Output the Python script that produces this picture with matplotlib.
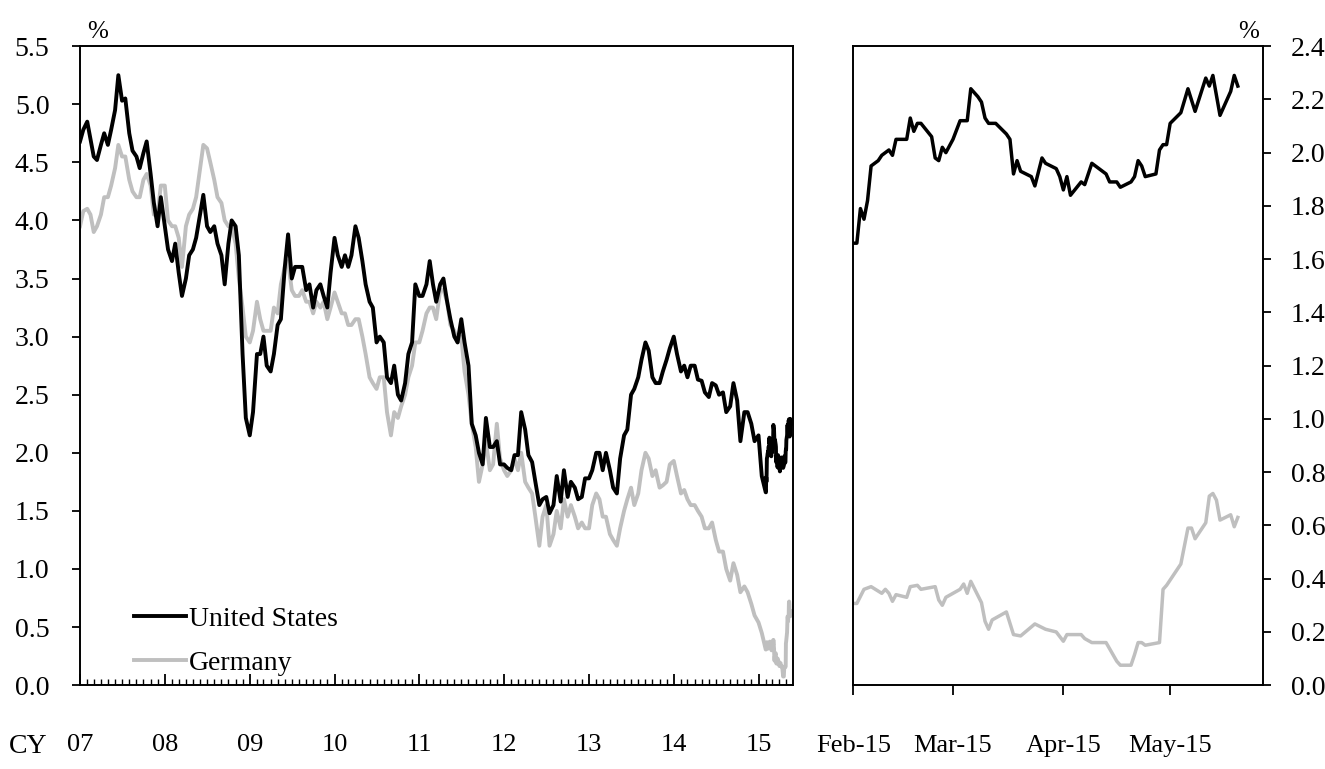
import matplotlib
matplotlib.use('Agg')
import matplotlib.pyplot as plt
import matplotlib.dates as mdates
import numpy as np
import pandas as pd

plt.rcParams['font.family'] = ['Liberation Serif', 'DejaVu Serif']
plt.rcParams['font.size'] = 15

# 10-year yields, read on the 1st and 15th of each month, Jan 2007 - Jan 2015
us_semi = [
    4.68, 4.78, 4.85, 4.70, 4.55, 4.52, 4.65, 4.75, 4.65, 4.78, 4.95, 5.25, 5.03, 5.05, 4.75, 4.60, 4.55, 4.45, 4.58, 4.68, 4.40, 4.15, 3.95, 4.20,  # 2007
    3.95, 3.75, 3.65, 3.80, 3.55, 3.35, 3.50, 3.70, 3.75, 3.85, 4.05, 4.22, 3.95, 3.90, 3.95, 3.80, 3.70, 3.45, 3.80, 4.00, 3.95, 3.70, 2.85, 2.30,  # 2008
    2.15, 2.35, 2.85, 2.85, 3.00, 2.75, 2.70, 2.85, 3.10, 3.15, 3.60, 3.88, 3.50, 3.60, 3.60, 3.60, 3.40, 3.45, 3.25, 3.40, 3.45, 3.35, 3.25, 3.55,  # 2009
    3.85, 3.70, 3.60, 3.70, 3.60, 3.70, 3.95, 3.85, 3.65, 3.45, 3.30, 3.25, 2.95, 3.00, 2.95, 2.65, 2.60, 2.75, 2.50, 2.45, 2.60, 2.85, 2.95, 3.45,  # 2010
    3.35, 3.35, 3.45, 3.65, 3.45, 3.30, 3.45, 3.50, 3.30, 3.15, 3.00, 2.95, 3.15, 2.95, 2.75, 2.25, 2.15, 2.00, 1.90, 2.30, 2.05, 2.05, 2.10, 1.90,  # 2011
    1.90, 1.87, 1.85, 1.98, 1.98, 2.35, 2.20, 1.98, 1.92, 1.75, 1.55, 1.60, 1.62, 1.48, 1.55, 1.80, 1.58, 1.85, 1.62, 1.75, 1.70, 1.60, 1.62, 1.78,  # 2012
    1.78, 1.85, 2.00, 2.00, 1.85, 2.00, 1.85, 1.70, 1.65, 1.95, 2.15, 2.20, 2.50, 2.55, 2.65, 2.80, 2.95, 2.88, 2.65, 2.60, 2.60, 2.70, 2.80, 2.90,  # 2013
    3.00, 2.85, 2.70, 2.75, 2.65, 2.75, 2.75, 2.63, 2.62, 2.52, 2.48, 2.60, 2.58, 2.50, 2.52, 2.35, 2.40, 2.60, 2.45, 2.10, 2.35, 2.35, 2.25, 2.10,  # 2014
    2.15, 1.80,  # 2015
]
de_semi = [
    3.95, 4.08, 4.10, 4.05, 3.90, 3.95, 4.05, 4.20, 4.20, 4.30, 4.45, 4.65, 4.55, 4.55, 4.35, 4.25, 4.20, 4.20, 4.35, 4.40, 4.30, 4.05, 4.05, 4.30,  # 2007
    4.30, 4.00, 3.95, 3.95, 3.85, 3.60, 3.95, 4.05, 4.10, 4.20, 4.45, 4.65, 4.62, 4.50, 4.35, 4.20, 4.15, 4.00, 3.95, 3.95, 3.80, 3.50, 3.25, 3.00,  # 2008
    2.95, 3.05, 3.30, 3.15, 3.05, 3.05, 3.05, 3.25, 3.20, 3.45, 3.60, 3.65, 3.40, 3.35, 3.35, 3.40, 3.30, 3.30, 3.20, 3.30, 3.25, 3.30, 3.15, 3.25,  # 2009
    3.38, 3.30, 3.20, 3.20, 3.10, 3.10, 3.15, 3.15, 3.00, 2.85, 2.65, 2.60, 2.55, 2.65, 2.65, 2.35, 2.15, 2.35, 2.30, 2.40, 2.50, 2.65, 2.75, 2.95,  # 2010
    2.95, 3.05, 3.20, 3.25, 3.25, 3.15, 3.40, 3.40, 3.30, 3.10, 3.05, 2.95, 3.00, 2.70, 2.50, 2.25, 2.05, 1.75, 1.90, 2.10, 1.85, 1.90, 2.25, 1.95,  # 2011
    1.85, 1.80, 1.85, 1.95, 1.85, 2.00, 1.75, 1.70, 1.65, 1.45, 1.20, 1.45, 1.55, 1.20, 1.30, 1.50, 1.35, 1.60, 1.45, 1.55, 1.45, 1.35, 1.40, 1.35,  # 2012
    1.35, 1.55, 1.65, 1.60, 1.45, 1.45, 1.30, 1.25, 1.20, 1.35, 1.50, 1.60, 1.70, 1.55, 1.65, 1.85, 2.00, 1.95, 1.80, 1.85, 1.70, 1.72, 1.75, 1.90,  # 2013
    1.93, 1.80, 1.65, 1.68, 1.60, 1.55, 1.55, 1.50, 1.45, 1.35, 1.35, 1.40, 1.25, 1.15, 1.15, 1.00, 0.90, 1.05, 0.95, 0.80, 0.85, 0.80, 0.70, 0.60,  # 2014
    0.54, 0.45,  # 2015
]

# daily readings, Feb - May 2015
us_dates = ['02-01', '02-02', '02-03', '02-04', '02-05', '02-06', '02-08', '02-09', '02-11', '02-12',
            '02-13', '02-16', '02-17', '02-18', '02-19', '02-20', '02-23', '02-24', '02-25', '02-26',
            '02-27', '03-01', '03-03', '03-05', '03-06', '03-08', '03-09', '03-10', '03-11', '03-13',
            '03-16', '03-17', '03-18', '03-19', '03-20', '03-23', '03-24', '03-26', '03-27', '03-30',
            '03-31', '04-01', '04-02', '04-03', '04-06', '04-07', '04-09', '04-11', '04-13', '04-14',
            '04-16', '04-17', '04-20', '04-21', '04-22', '04-23', '04-24', '04-27', '04-28', '04-29',
            '04-30', '05-01', '05-04', '05-06', '05-08', '05-11', '05-12', '05-13', '05-15', '05-18',
            '05-19', '05-20']
us_daily = [1.66, 1.66, 1.79, 1.75, 1.82, 1.95, 1.97, 1.99, 2.01, 1.99,
            2.05, 2.05, 2.13, 2.08, 2.11, 2.11, 2.06, 1.98, 1.97, 2.02,
            2.00, 2.05, 2.12, 2.12, 2.24, 2.21, 2.19, 2.13, 2.11, 2.11,
            2.07, 2.05, 1.92, 1.97, 1.93, 1.91, 1.875, 1.98, 1.96, 1.94,
            1.91, 1.86, 1.91, 1.84, 1.89, 1.88, 1.96, 1.94, 1.92, 1.89,
            1.89, 1.87, 1.89, 1.91, 1.97, 1.95, 1.91, 1.92, 2.01, 2.03,
            2.03, 2.11, 2.15, 2.24, 2.155, 2.28, 2.25, 2.29, 2.14, 2.23,
            2.29, 2.25]
de_dates = ['02-01', '02-02', '02-04', '02-06', '02-09', '02-10', '02-11', '02-12', '02-13', '02-16',
            '02-17', '02-19', '02-20', '02-24', '02-25', '02-26', '02-27', '03-03', '03-04', '03-05',
            '03-06', '03-09', '03-10', '03-11', '03-12', '03-16', '03-18', '03-20', '03-24', '03-27',
            '03-30', '04-01', '04-02', '04-06', '04-07', '04-09', '04-13', '04-16', '04-17', '04-20',
            '04-21', '04-22', '04-23', '04-24', '04-28', '04-29', '04-30', '05-04', '05-06', '05-07',
            '05-08', '05-11', '05-12', '05-13', '05-14', '05-15', '05-18', '05-19', '05-20']
de_daily = [0.307, 0.307, 0.36, 0.37, 0.345, 0.36, 0.345, 0.315, 0.34, 0.33,
            0.37, 0.375, 0.36, 0.37, 0.32, 0.30, 0.33, 0.36, 0.38, 0.345,
            0.39, 0.31, 0.24, 0.21, 0.245, 0.275, 0.19, 0.185, 0.23, 0.21,
            0.20, 0.165, 0.19, 0.19, 0.175, 0.16, 0.16, 0.09, 0.075, 0.075,
            0.115, 0.16, 0.16, 0.15, 0.16, 0.36, 0.375, 0.455, 0.59, 0.59,
            0.55, 0.61, 0.71, 0.72, 0.695, 0.62, 0.64, 0.595, 0.63]

year_labels = ['07', '08', '09', '10', '11', '12', '13', '14', '15']
month_labels = ['Feb-15', 'Mar-15', 'Apr-15', 'May-15']

semi_dates = pd.date_range('2007-01-01', '2015-01-15', freq='SMS')
us_d = pd.to_datetime(['2015-' + d for d in us_dates])
de_d = pd.to_datetime(['2015-' + d for d in de_dates])

us_long = pd.concat([pd.Series(us_semi, index=semi_dates), pd.Series(us_daily, index=us_d)])
de_long = pd.concat([pd.Series(de_semi, index=semi_dates), pd.Series(de_daily, index=de_d)])

fig = plt.figure(figsize=(13.25, 7.69), dpi=100)
ax1 = fig.add_axes([0.0604, 0.109, 0.538, 0.831])
ax2 = fig.add_axes([0.644, 0.109, 0.309, 0.831])

black = '#000000'
grey = '#BFBFBF'

ax1.plot(de_long.index, de_long.values, color=grey, lw=2.8, label='Germany')
ax1.plot(us_long.index, us_long.values, color=black, lw=2.8, label='United States')

ax1.set_xlim(pd.Timestamp('2007-01-01'), pd.Timestamp('2015-05-29'))
ax1.set_ylim(0, 5.5)
ax1.set_yticks(np.arange(0, 5.51, 0.5))
ax1.yaxis.set_major_formatter(matplotlib.ticker.FormatStrFormatter('%.1f'))
ax1.set_xticks(pd.to_datetime(['20%s-01-01' % y for y in year_labels]))
ax1.set_xticklabels(year_labels)
ax1.xaxis.set_minor_locator(mdates.MonthLocator())
ax1.tick_params(axis='x', which='major', direction='in', length=8, width=1.3, pad=35)
ax1.tick_params(axis='x', which='minor', direction='in', length=4, width=1.0)
ax1.tick_params(axis='y', direction='out', length=6, width=1.3, pad=16)

h, l = ax1.get_legend_handles_labels()
ax1.legend(h[::-1], l[::-1], loc='lower left', bbox_to_anchor=(0.04, -0.025), frameon=False,
           handlelength=1.9, handletextpad=0.1, labelspacing=0.68, fontsize=20)

ax1.text(0.01, 1.005, '%', transform=ax1.transAxes, ha='left', va='bottom', fontsize=18)
ax1.annotate('CY', xy=(0, 0), xycoords='axes fraction', xytext=(-51, -35),
             textcoords='offset points', ha='left', va='top', fontsize=20)

ax2.plot(de_d, de_daily, color=grey, lw=2.5)
ax2.plot(us_d, us_daily, color=black, lw=2.5)
ax2.set_xlim(pd.Timestamp('2015-02-01'), pd.Timestamp('2015-05-27'))
ax2.set_ylim(0, 2.4)
ax2.set_yticks(np.arange(0, 2.41, 0.2))
ax2.yaxis.set_major_formatter(matplotlib.ticker.FormatStrFormatter('%.1f'))
ax2.yaxis.tick_right()
ax2.set_xticks(pd.to_datetime(['2015-02-01', '2015-03-01', '2015-04-01', '2015-05-01']))
ax2.set_xticklabels(month_labels)
ax2.tick_params(axis='x', direction='out', length=7, width=1.3, pad=29)
ax2.tick_params(axis='y', direction='out', length=6, width=1.3, pad=14)
ax2.text(0.99, 1.005, '%', transform=ax2.transAxes, ha='right', va='bottom', fontsize=18)

for ax in (ax1, ax2):
    for s in ax.spines.values():
        s.set_linewidth(1.4)
    for t in ax.get_yticklabels():
        t.set_fontsize(20)
    for t in ax.get_xticklabels():
        t.set_fontsize(19)

plt.savefig('out.png', dpi=100)
